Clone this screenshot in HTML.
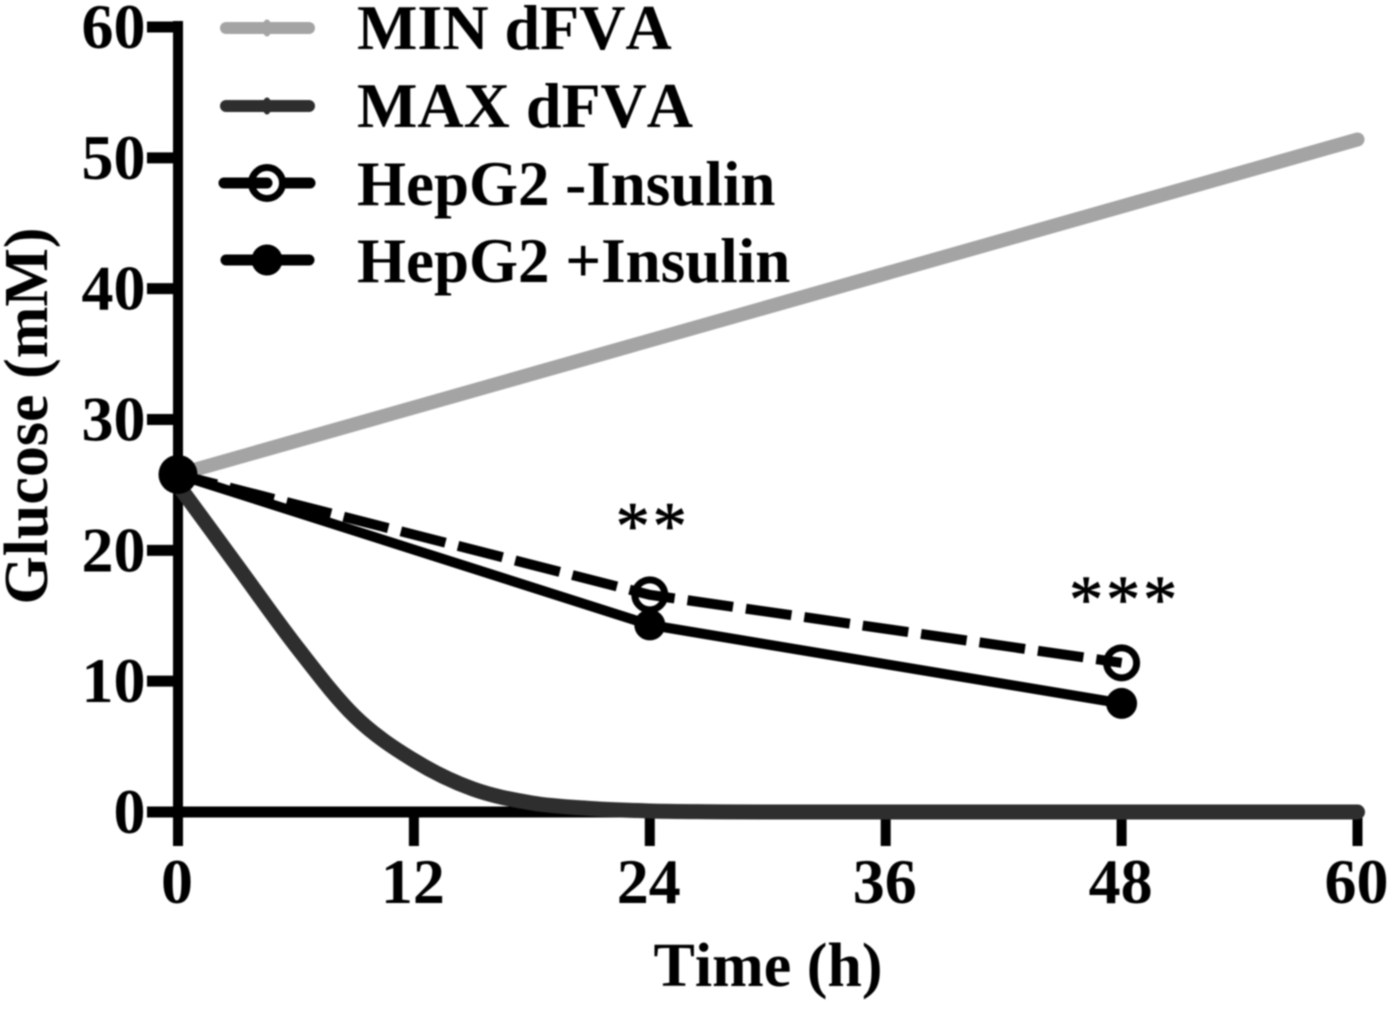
<!DOCTYPE html>
<html>
<head>
<meta charset="utf-8">
<style>
html,body{margin:0;padding:0;background:#fff;}
svg{display:block;filter:blur(0.7px);}
text{font-family:"Liberation Serif",serif;font-weight:bold;fill:#000;font-kerning:none;}
</style>
</head>
<body>
<svg id="chart" width="1400" height="1009" viewBox="0 0 1400 1009" xmlns="http://www.w3.org/2000/svg"></svg>
<script>
const xTicks = [0, 12, 24, 36, 48, 60];
const yTicks = [0, 10, 20, 30, 40, 50, 60];
const minTimes = [0, 60];
const minValues = [25.8, 51.4];
const maxTimes = [0, 3, 6, 9, 12, 15, 18, 21, 24, 27, 30, 40, 50, 60];
const maxValues = [25.0, 18.85, 12.7, 7.3, 3.95, 1.76, 0.69, 0.27, 0.08, 0.02, 0, 0, 0, 0];
const noInsTimes = [0, 24, 48];
const noInsValues = [25.8, 16.6, 11.4];
const insTimes = [0, 24, 48];
const insValues = [25.8, 14.3, 8.3];
const annotations = ['**', '***'];
const annotationTimes = [24, 48];
const annotationValues = [22.45, 16.8];
const legendLabels = ['MIN dFVA', 'MAX dFVA', 'HepG2 -Insulin', 'HepG2 +Insulin'];

const svg = document.getElementById('chart');
const NS = 'http://www.w3.org/2000/svg';
const xS = t => 178 + t * (1357.5 - 178) / 60;
const yS = v => 812 - v * (812 - 27) / 60;

function add(tag, attrs, parent) {
  const el = document.createElementNS(NS, tag);
  for (const k in attrs) el.setAttribute(k, attrs[k]);
  (parent || svg).appendChild(el);
  return el;
}
function pts(ts, vs) {
  return ts.map((t, i) => xS(t) + ',' + yS(vs[i])).join(' ');
}
function smoothPath(ts, vs) {
  const p = ts.map((t, i) => [xS(t), yS(vs[i])]);
  let d = 'M' + p[0][0] + ' ' + p[0][1];
  for (let i = 0; i < p.length - 1; i++) {
    const p0 = p[Math.max(0, i - 1)], p1 = p[i], p2 = p[i + 1], p3 = p[Math.min(p.length - 1, i + 2)];
    const c1y = Math.min(Math.max(p1[1] + (p2[1] - p0[1]) / 6, Math.min(p1[1], p2[1])), Math.max(p1[1], p2[1]));
    const c2y = Math.min(Math.max(p2[1] - (p3[1] - p1[1]) / 6, Math.min(p1[1], p2[1])), Math.max(p1[1], p2[1]));
    d += ' C' + (p1[0] + (p2[0] - p0[0]) / 6) + ' ' + c1y + ' ' + (p2[0] - (p3[0] - p1[0]) / 6) + ' ' + c2y + ' ' + p2[0] + ' ' + p2[1];
  }
  return d;
}

// MIN line
const minLine = add('polyline', {points: pts(minTimes, minValues), fill: 'none', stroke: '#a4a4a4', 'stroke-width': 14, 'stroke-linecap': 'round'});



// Axes
const yAxis = add('line', {x1: 178, y1: 21, x2: 178, y2: 846, stroke: '#000', 'stroke-width': 10});


const xAxis = add('line', {x1: 147, y1: 812, x2: 1362, y2: 812, stroke: '#000', 'stroke-width': 11});



xTicks.forEach(t => {
  const tick = add('line', {x1: xS(t), y1: 812, x2: xS(t), y2: 846, stroke: '#000', 'stroke-width': 10});
  
  
  const lab = add('text', {x: xS(t) - 1, y: 903, 'text-anchor': 'middle', 'font-size': 64});
  lab.textContent = t;
  
  
});
yTicks.forEach(v => {
  const tick = add('line', {x1: 147, y1: yS(v), x2: 178, y2: yS(v), stroke: '#000', 'stroke-width': 11});
  
  
  const lab = add('text', {x: 145.5, y: yS(v) + 21, 'text-anchor': 'end', 'font-size': 64});
  lab.textContent = v;
  
  
});

const xTitle = add('text', {x: 768, y: 986, 'text-anchor': 'middle', 'font-size': 62});
xTitle.textContent = 'Time (h)';


const yTitle = add('text', {x: 0, y: 0, 'text-anchor': 'middle', 'font-size': 62, transform: 'translate(47,416) rotate(-90)'});
yTitle.textContent = 'Glucose (mM)';



// MAX curve
const maxLine = add('path', {d: smoothPath(maxTimes, maxValues), fill: 'none', stroke: '#2e2e2e', 'stroke-width': 15, 'stroke-linecap': 'round', 'stroke-linejoin': 'round'});



// -Insulin markers, then the dashed line over them
noInsTimes.forEach((t, i) => {
  const c = add('circle', {cx: xS(t), cy: yS(noInsValues[i]), r: 15, fill: '#fff', stroke: '#000', 'stroke-width': 7});
  
  
});
const noIns = add('polyline', {points: pts(noInsTimes, noInsValues), fill: 'none', stroke: '#000', 'stroke-width': 10, 'stroke-dasharray': '46 13', 'stroke-dashoffset': 6});



// +Insulin
const ins = add('polyline', {points: pts(insTimes, insValues), fill: 'none', stroke: '#000', 'stroke-width': 10});


insTimes.forEach((t, i) => {
  const r = i === 0 ? 19.5 : 15.5;
  const c = add('circle', {cx: xS(t), cy: yS(insValues[i]), r: r, fill: '#000'});
  
  
});

// Significance
annotations.forEach((s, i) => {
  const a = add('text', {x: xS(annotationTimes[i]) + 3, y: yS(annotationValues[i]) + 30, 'text-anchor': 'middle', 'font-size': 68, style: 'font-weight:normal;letter-spacing:3px;stroke:#000;stroke-width:0.8px'});
  a.textContent = s;
  
  
});

// Legend
const legendY = [28, 106, 183, 260];
const legendBase = [49, 127, 205, 282];
const legendFontSizes = [64, 64, 63, 63];
legendLabels.forEach((label, i) => {
  const y = legendY[i];
  const style = [
    {stroke: '#a4a4a4', w: 12},
    {stroke: '#2e2e2e', w: 12},
    {stroke: '#000', w: 11},
    {stroke: '#000', w: 11}
  ][i];
  if (i === 2) {
    const l1 = add('line', {x1: 224, y1: y, x2: 267, y2: y, stroke: style.stroke, 'stroke-width': style.w, 'stroke-linecap': 'round'});
    
    
    const l2 = add('line', {x1: 285, y1: y, x2: 310, y2: y, stroke: style.stroke, 'stroke-width': style.w, 'stroke-linecap': 'round'});
    
    
    const c = add('circle', {cx: 267, cy: y, r: 15.5, fill: 'none', stroke: '#000', 'stroke-width': 7});
    
    
  } else {
    const l = add('line', {x1: 226, y1: y, x2: 309, y2: y, stroke: style.stroke, 'stroke-width': style.w, 'stroke-linecap': 'round'});
    
    
    if (i === 3) {
      const c = add('circle', {cx: 267, cy: y, r: 15.5, fill: '#000'});
      
      
    } else {
      const c = add('ellipse', {cx: 267, cy: y, rx: 4.5, ry: 8.5, fill: style.stroke});
      
      
    }
  }
  const t = add('text', {x: 357, y: legendBase[i], 'font-size': legendFontSizes[i]});
  t.textContent = label;
  
  
});
</script>
</body>
</html>
